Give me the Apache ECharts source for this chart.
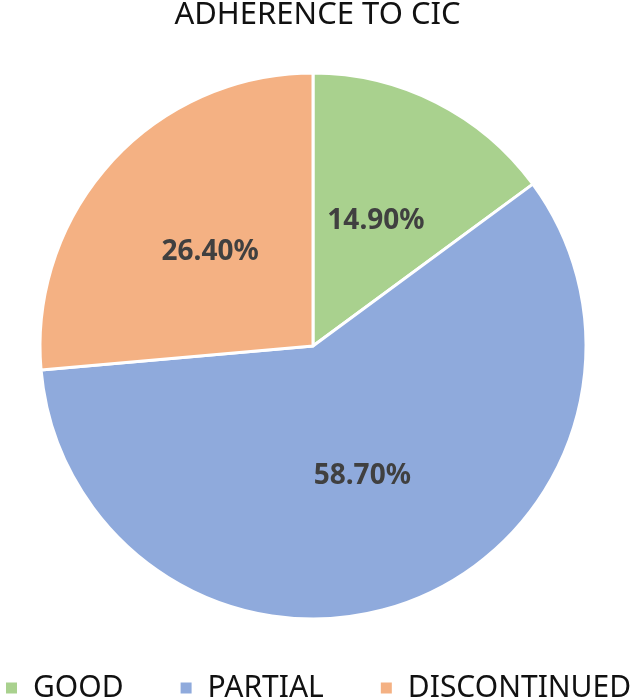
<!DOCTYPE html>
<html><head><meta charset="utf-8">
<script src="https://cdn.jsdelivr.net/npm/echarts@6/dist/echarts.min.js"></script>
<style>html,body{margin:0;padding:0;background:#fff}#c{width:635px;height:700px}</style>
</head><body><div id="c"></div>
<script>
const title = 'ADHERENCE TO CIC';
const categories = ['GOOD', 'PARTIAL', 'DISCONTINUED'];
const values = [14.9, 58.7, 26.4];
const colors = ['#A9D18E', '#8FAADC', '#F4B183'];

const chart = echarts.init(document.getElementById('c'), null, {renderer: 'canvas'});
chart.setOption({
  animation: false,
  backgroundColor: '#ffffff',
  title: {
    text: title, left: 'center', top: 0, padding: 0,
    textStyle: {fontFamily: 'Noto Sans', fontSize: 31, fontWeight: 'normal', color: '#111', lineHeight: 30}
  },
  legend: {
    data: categories, left: 4, top: 670, padding: 0, itemGap: 55,
    icon: 'rect', itemWidth: 13, itemHeight: 13,
    textStyle: {fontFamily: 'Noto Sans', fontSize: 30, color: '#111', lineHeight: 36, padding: [0, 0, 0, 10]}
  },
  series: [{
    type: 'pie', center: [313, 346], radius: 273, startAngle: 90, clockwise: true,
    data: categories.map((n, i) => ({name: n, value: values[i], itemStyle: {color: colors[i]}})),
    itemStyle: {borderColor: '#fff', borderWidth: 3},
    label: {
      position: 'inside', formatter: p => p.value.toFixed(2) + '%',
      fontFamily: 'Noto Sans', fontWeight: 'bold', fontSize: 28, color: '#404040'
    },
    labelLine: {show: false},
    emphasis: {disabled: true}
  }]
});
</script></body></html>
